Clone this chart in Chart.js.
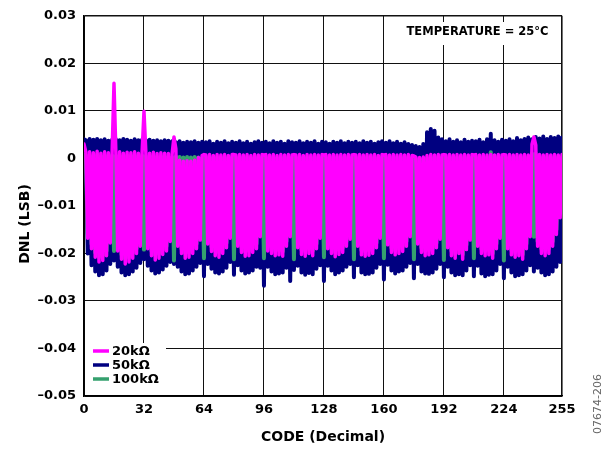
<!DOCTYPE html>
<html><head><meta charset="utf-8">
<script src="https://cdn.jsdelivr.net/npm/chart.js@4.4.0/dist/chart.umd.min.js"></script>
<style>html,body{margin:0;padding:0;background:#fff;}canvas{display:block;}</style>
</head><body>
<canvas id="c" width="608" height="450"></canvas>
<script>
const codes = Array.from({length: 256}, (_, i) => i);

const dnl20k = [
 0.0030, 0.0013,-0.0168, 0.0014,-0.0190, 0.0012,-0.0208, 0.0015,-0.0218, 0.0011,-0.0215, 0.0014,-0.0205, 0.0012,-0.0178, 0.0013,
 0.0158, 0.0012,-0.0195, 0.0014,-0.0212, 0.0011,-0.0222, 0.0013,-0.0218, 0.0012,-0.0210, 0.0014,-0.0200, 0.0011,-0.0185, 0.0013,
 0.0099, 0.0012,-0.0190, 0.0011,-0.0205, 0.0013,-0.0214, 0.0010,-0.0210, 0.0012,-0.0202, 0.0011,-0.0195, 0.0010,-0.0175, 0.0009,
 0.0045, 0.0020,-0.0185,-0.0004,-0.0200,-0.0006,-0.0210,-0.0005,-0.0208,-0.0006,-0.0200,-0.0004,-0.0190, 0.0002,-0.0172, 0.0006,
 0.0008, 0.0007,-0.0180, 0.0008,-0.0196, 0.0006,-0.0205, 0.0008,-0.0208, 0.0007,-0.0200, 0.0008,-0.0188, 0.0006,-0.0168, 0.0008,
 0.0008, 0.0007,-0.0185, 0.0008,-0.0198, 0.0007,-0.0206, 0.0008,-0.0205, 0.0006,-0.0198, 0.0008,-0.0190, 0.0007,-0.0165, 0.0008,
 0.0007, 0.0008,-0.0195, 0.0007,-0.0200, 0.0008,-0.0205, 0.0006,-0.0203, 0.0008,-0.0206, 0.0007,-0.0185, 0.0008,-0.0165, 0.0007,
 0.0008, 0.0007,-0.0188, 0.0008,-0.0202, 0.0006,-0.0206, 0.0008,-0.0200, 0.0007,-0.0205, 0.0008,-0.0190, 0.0007,-0.0168, 0.0008,
 0.0007, 0.0008,-0.0190, 0.0007,-0.0200, 0.0008,-0.0207, 0.0007,-0.0202, 0.0008,-0.0198, 0.0007,-0.0185, 0.0008,-0.0170, 0.0007,
 0.0008, 0.0007,-0.0185, 0.0008,-0.0203, 0.0007,-0.0206, 0.0008,-0.0204, 0.0007,-0.0200, 0.0008,-0.0188, 0.0006,-0.0168, 0.0008,
 0.0007, 0.0008,-0.0182, 0.0007,-0.0198, 0.0008,-0.0203, 0.0007,-0.0200, 0.0008,-0.0196, 0.0007,-0.0185, 0.0008,-0.0165, 0.0006,
 0.0005, 0.0003,-0.0180, 0.0002,-0.0198, 0.0003,-0.0205, 0.0006,-0.0203, 0.0008,-0.0200, 0.0007,-0.0188, 0.0008,-0.0170, 0.0007,
 0.0008, 0.0007,-0.0188, 0.0008,-0.0205, 0.0007,-0.0210, 0.0008,-0.0200, 0.0007,-0.0212, 0.0008,-0.0192, 0.0007,-0.0172, 0.0008,
 0.0007, 0.0008,-0.0185, 0.0007,-0.0200, 0.0008,-0.0205, 0.0007,-0.0203, 0.0008,-0.0210, 0.0007,-0.0190, 0.0008,-0.0168, 0.0007,
 0.0008, 0.0007,-0.0190, 0.0008,-0.0203, 0.0007,-0.0208, 0.0008,-0.0205, 0.0007,-0.0212, 0.0008,-0.0190, 0.0007,-0.0165, 0.0030,
 0.0045, 0.0028,-0.0185, 0.0008,-0.0200, 0.0007,-0.0205, 0.0008,-0.0200, 0.0007,-0.0185, 0.0008,-0.0160, 0.0007,-0.0125, 0.0008
];

const dnl50k = [
 0.0040, 0.0038,-0.0200, 0.0041,-0.0225, 0.0039,-0.0238, 0.0041,-0.0246, 0.0038,-0.0244, 0.0040,-0.0236, 0.0037,-0.0222, 0.0039,
-0.0215, 0.0040,-0.0228, 0.0038,-0.0240, 0.0041,-0.0246, 0.0039,-0.0244, 0.0037,-0.0238, 0.0040,-0.0230, 0.0038,-0.0220, 0.0039,
-0.0212, 0.0038,-0.0226, 0.0039,-0.0236, 0.0037,-0.0242, 0.0038,-0.0240, 0.0036,-0.0234, 0.0038,-0.0226, 0.0037,-0.0218, 0.0036,
-0.0222, 0.0034,-0.0228, 0.0036,-0.0238, 0.0033,-0.0244, 0.0035,-0.0242, 0.0034,-0.0236, 0.0036,-0.0228, 0.0033,-0.0220, 0.0035,
-0.0248, 0.0034,-0.0222, 0.0036,-0.0232, 0.0031,-0.0240, 0.0035,-0.0242, 0.0033,-0.0238, 0.0036,-0.0230, 0.0032,-0.0218, 0.0035,
-0.0245, 0.0033,-0.0225, 0.0036,-0.0236, 0.0032,-0.0242, 0.0035,-0.0240, 0.0031,-0.0236, 0.0034,-0.0228, 0.0036,-0.0230, 0.0033,
-0.0268, 0.0035,-0.0228, 0.0032,-0.0238, 0.0036,-0.0244, 0.0033,-0.0242, 0.0035,-0.0240, 0.0031,-0.0230, 0.0036,-0.0258, 0.0034,
-0.0235, 0.0033,-0.0226, 0.0036,-0.0240, 0.0032,-0.0245, 0.0035,-0.0241, 0.0033,-0.0244, 0.0036,-0.0232, 0.0031,-0.0225, 0.0035,
-0.0258, 0.0034,-0.0226, 0.0031,-0.0236, 0.0035,-0.0244, 0.0033,-0.0240, 0.0036,-0.0236, 0.0032,-0.0228, 0.0035,-0.0222, 0.0033,
-0.0250, 0.0035,-0.0225, 0.0032,-0.0240, 0.0036,-0.0244, 0.0033,-0.0243, 0.0035,-0.0240, 0.0031,-0.0230, 0.0034,-0.0222, 0.0036,
-0.0255, 0.0033,-0.0224, 0.0036,-0.0236, 0.0032,-0.0242, 0.0035,-0.0238, 0.0031,-0.0236, 0.0034,-0.0228, 0.0030,-0.0220, 0.0028,
-0.0252, 0.0026,-0.0222, 0.0024,-0.0238, 0.0030,-0.0242, 0.0055,-0.0243, 0.0062,-0.0240, 0.0058,-0.0232, 0.0044,-0.0222, 0.0040,
-0.0250, 0.0036,-0.0228, 0.0040,-0.0240, 0.0035,-0.0246, 0.0038,-0.0244, 0.0034,-0.0246, 0.0039,-0.0236, 0.0035,-0.0225, 0.0037,
-0.0248, 0.0036,-0.0226, 0.0039,-0.0242, 0.0034,-0.0248, 0.0040,-0.0245, 0.0052,-0.0244, 0.0038,-0.0236, 0.0035,-0.0222, 0.0039,
-0.0252, 0.0037,-0.0228, 0.0040,-0.0240, 0.0036,-0.0248, 0.0043,-0.0246, 0.0038,-0.0244, 0.0041,-0.0236, 0.0044,-0.0225, 0.0040,
-0.0238, 0.0045,-0.0230, 0.0042,-0.0240, 0.0046,-0.0246, 0.0041,-0.0244, 0.0045,-0.0238, 0.0043,-0.0228, 0.0046,-0.0218, 0.0044
];

const dnl100k = [
 0.0008, 0.0006,-0.0158, 0.0007,-0.0180, 0.0005,-0.0198, 0.0008,-0.0208, 0.0004,-0.0205, 0.0007,-0.0195, 0.0005,-0.0168, 0.0006,
-0.0195, 0.0005,-0.0185, 0.0007,-0.0202, 0.0004,-0.0212, 0.0006,-0.0208, 0.0005,-0.0200, 0.0007,-0.0190, 0.0004,-0.0175, 0.0006,
-0.0192, 0.0005,-0.0180, 0.0004,-0.0195, 0.0006,-0.0204, 0.0003,-0.0200, 0.0005,-0.0192, 0.0004,-0.0185, 0.0003,-0.0165, 0.0002,
-0.0215, 0.0004,-0.0175, 0.0003,-0.0190, 0.0002,-0.0200, 0.0003,-0.0198, 0.0002,-0.0190, 0.0003,-0.0180, 0.0002,-0.0162, 0.0001,
-0.0210, 0.0003,-0.0170, 0.0003,-0.0186, 0.0001,-0.0195, 0.0003,-0.0198, 0.0002,-0.0190, 0.0003,-0.0178, 0.0001,-0.0158, 0.0003,
-0.0212, 0.0002,-0.0175, 0.0003,-0.0188, 0.0002,-0.0196, 0.0003,-0.0195, 0.0001,-0.0188, 0.0003,-0.0180, 0.0002,-0.0155, 0.0003,
-0.0210, 0.0003,-0.0185, 0.0002,-0.0190, 0.0003,-0.0195, 0.0001,-0.0193, 0.0003,-0.0196, 0.0002,-0.0175, 0.0003,-0.0155, 0.0002,
-0.0212, 0.0002,-0.0178, 0.0003,-0.0192, 0.0001,-0.0196, 0.0003,-0.0190, 0.0002,-0.0195, 0.0003,-0.0180, 0.0002,-0.0158, 0.0003,
-0.0208, 0.0003,-0.0180, 0.0002,-0.0190, 0.0003,-0.0197, 0.0002,-0.0192, 0.0003,-0.0188, 0.0002,-0.0175, 0.0003,-0.0160, 0.0002,
-0.0212, 0.0002,-0.0175, 0.0003,-0.0193, 0.0002,-0.0196, 0.0003,-0.0194, 0.0002,-0.0190, 0.0003,-0.0178, 0.0001,-0.0158, 0.0003,
-0.0210, 0.0003,-0.0172, 0.0002,-0.0188, 0.0003,-0.0193, 0.0002,-0.0190, 0.0003,-0.0186, 0.0002,-0.0175, 0.0003,-0.0155, 0.0001,
-0.0212,-0.0001,-0.0170,-0.0002,-0.0188,-0.0001,-0.0195, 0.0001,-0.0193, 0.0003,-0.0190, 0.0002,-0.0178, 0.0003,-0.0160, 0.0002,
-0.0214, 0.0003,-0.0178, 0.0002,-0.0195, 0.0003,-0.0200, 0.0002,-0.0190, 0.0003,-0.0202, 0.0002,-0.0182, 0.0003,-0.0162, 0.0002,
-0.0210, 0.0003,-0.0175, 0.0002,-0.0190, 0.0003,-0.0195, 0.0002,-0.0193, 0.0013,-0.0200, 0.0002,-0.0180, 0.0003,-0.0158, 0.0002,
-0.0215, 0.0002,-0.0180, 0.0003,-0.0193, 0.0002,-0.0198, 0.0003,-0.0195, 0.0002,-0.0202, 0.0003,-0.0180, 0.0002,-0.0155, 0.0010,
-0.0165, 0.0010,-0.0175, 0.0003,-0.0190, 0.0002,-0.0195, 0.0003,-0.0190, 0.0002,-0.0175, 0.0003,-0.0150, 0.0002,-0.0115, 0.0003
];

const seriesNames = ['20kΩ', '50kΩ', '100kΩ'];
const seriesColors = ['#ff00ff', '#000080', '#35a06e'];
const xTickValues = [0, 32, 64, 96, 128, 160, 192, 224, 255];
const xTickLabels = ['0', '32', '64', '96', '128', '160', '192', '224', '255'];
const yTickValues = [-0.05, -0.04, -0.03, -0.02, -0.01, 0, 0.01, 0.02, 0.03];
const yTickLabels = ['–0.05', '–0.04', '–0.03', '–0.02', '–0.01', '0', '0.01', '0.02', '0.03'];
const annotationText = 'TEMPERATURE = 25°C';
const yTitle = 'DNL (LSB)';
const xTitle = 'CODE (Decimal)';
const figureId = '07674-206';
const FONT = 'DejaVu Sans';

const overlay = {
  id: 'overlay',
  afterDatasetsDraw(chart) {
    const ctx = chart.ctx, a = chart.chartArea;
    ctx.save();
    ctx.fillStyle = '#fff';
    ctx.fillRect(399, 22, 157, 23);
    ctx.fillStyle = '#000';
    ctx.font = 'bold 11.5px "' + FONT + '"';
    ctx.textAlign = 'center';
    ctx.textBaseline = 'middle';
    ctx.fillText(annotationText, 477.5, 32);
    ctx.fillStyle = '#fff';
    ctx.fillRect(a.left + 1, 343, 81, a.bottom - 343 - 1);
    chart.data.datasets.forEach((ds, i) => {
      const y = 351 + i * 14;
      ctx.strokeStyle = ds.borderColor;
      ctx.lineWidth = 3.5;
      ctx.beginPath(); ctx.moveTo(93, y); ctx.lineTo(109, y); ctx.stroke();
      ctx.fillStyle = '#000';
      ctx.font = 'bold 13px "' + FONT + '"';
      ctx.textAlign = 'left';
      ctx.textBaseline = 'middle';
      ctx.fillText(ds.label, 112, y + 0.5);
    });
    ctx.restore();
  },
  afterDraw(chart) {
    const ctx = chart.ctx;
    ctx.save();
    ctx.fillStyle = '#000';
    ctx.font = 'bold 14px "' + FONT + '"';
    ctx.textAlign = 'center';
    ctx.textBaseline = 'middle';
    ctx.translate(25, 224);
    ctx.rotate(-Math.PI / 2);
    ctx.fillText(yTitle, 0, 0);
    ctx.restore();
    ctx.save();
    ctx.fillStyle = '#666';
    ctx.font = '11px "' + FONT + '"';
    ctx.textAlign = 'center';
    ctx.textBaseline = 'middle';
    ctx.translate(598, 404);
    ctx.rotate(-Math.PI / 2);
    ctx.fillText(figureId, 0, 0);
    ctx.restore();
  }
};

const tickFont = {family: FONT, size: 13, weight: 'bold'};

new Chart(document.getElementById('c'), {
  type: 'line',
  data: {
    labels: codes,
    datasets: [
      {label: seriesNames[0], data: dnl20k, borderColor: seriesColors[0], backgroundColor: seriesColors[0], borderWidth: 3.5, order: 0},
      {label: seriesNames[1], data: dnl50k, borderColor: seriesColors[1], backgroundColor: seriesColors[1], borderWidth: 4, order: 2},
      {label: seriesNames[2], data: dnl100k, borderColor: seriesColors[2], backgroundColor: seriesColors[2], borderWidth: 4, order: 1}
    ]
  },
  options: {
    responsive: false,
    animation: false,
    devicePixelRatio: 1,
    layout: {padding: {top: 15, right: 46, bottom: 0, left: 0}},
    elements: {
      point: {radius: 0, hoverRadius: 0},
      line: {tension: 0, borderJoinStyle: 'round', borderCapStyle: 'round'}
    },
    plugins: {legend: {display: false}, tooltip: {enabled: false}},
    events: [],
    scales: {
      x: {
        type: 'linear', min: 0, max: 255,
        afterBuildTicks: s => { s.ticks = xTickValues.map(v => ({value: v})); },
        afterFit: s => { s.height = 54; },
        ticks: {autoSkip: false, maxRotation: 0, padding: 6, color: '#000', font: tickFont,
                callback: (v, i) => xTickLabels[i]},
        grid: {color: '#111', lineWidth: c => (c.index === xTickValues.length - 1 ? 1.6 : 1), drawTicks: false},
        border: {color: '#000', width: 1.6},
        title: {display: true, text: xTitle, color: '#000', font: {family: FONT, size: 14, weight: 'bold'}, padding: {top: 0, bottom: 4}}
      },
      y: {
        min: -0.05, max: 0.03,
        afterBuildTicks: s => { s.ticks = yTickValues.map(v => ({value: v})); },
        afterFit: s => { s.width = 84; },
        ticks: {padding: 8, color: '#000', font: tickFont, callback: (v, i) => yTickLabels[i]},
        grid: {color: '#111', lineWidth: c => (c.index === yTickValues.length - 1 ? 1.6 : 1), drawTicks: false},
        border: {color: '#000', width: 1.6}
      }
    }
  },
  plugins: [overlay]
});
</script>
</body></html>
